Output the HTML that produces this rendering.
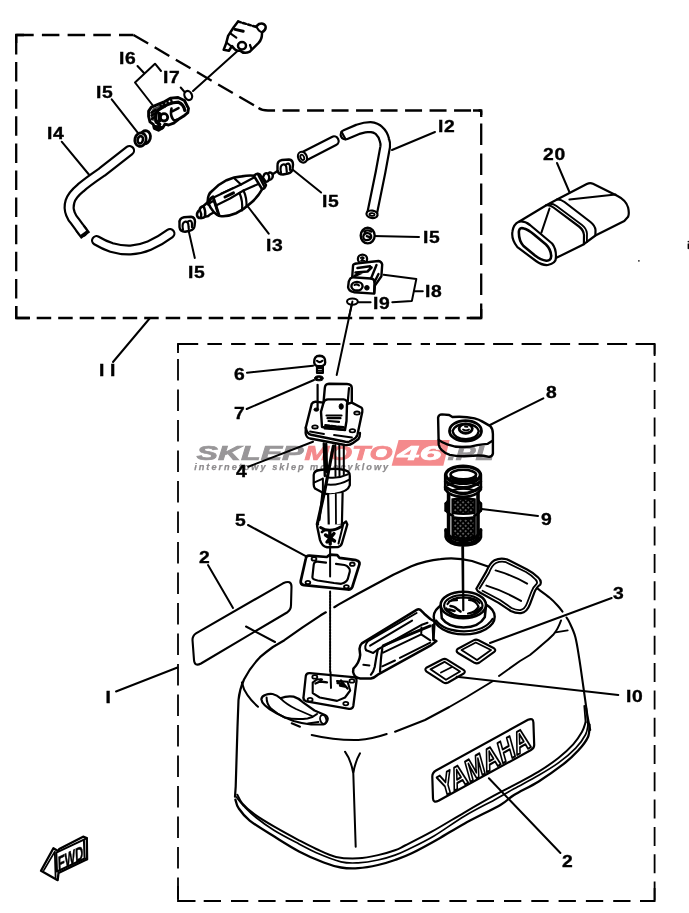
<!DOCTYPE html>
<html><head><meta charset="utf-8">
<style>
html,body{margin:0;padding:0;background:#fff;}
svg{display:block;will-change:transform;}
.l{fill:none;stroke:#000;stroke-width:2;stroke-linecap:round;stroke-linejoin:round;}
.t{fill:none;stroke:#000;stroke-width:1.1;stroke-linecap:round;stroke-linejoin:round;}
.k{fill:none;stroke:#000;stroke-width:2.4;stroke-linecap:round;stroke-linejoin:round;}
.w{fill:#fff;stroke:#000;stroke-width:2;stroke-linecap:round;stroke-linejoin:round;}
.b{fill:#000;stroke:#000;stroke-width:1;stroke-linejoin:round;}
.d{fill:none;stroke:#000;stroke-width:1.9;stroke-dasharray:18 7.5;}
.ho{fill:none;stroke:#000;stroke-linecap:butt;stroke-linejoin:round;}
.hi{fill:none;stroke:#fff;stroke-linecap:butt;stroke-linejoin:round;}
.n{font-family:"Liberation Sans",sans-serif;font-weight:bold;font-size:16.5px;fill:#000;stroke:#000;stroke-width:0.35;letter-spacing:0.6px;}
</style></head>
<body>
<svg width="689" height="913" viewBox="0 0 689 913">
<rect width="689" height="913" fill="#fff"/>
<g id="boxes" fill="none" stroke="#000" stroke-width="2.3">
<path stroke-dasharray="17.5 8.2" d="M16.2,35 H133.5"/>
<path stroke-dasharray="17 7.5" d="M133.5,35 L258.5,108"/>
<path stroke-dasharray="17 7.5" d="M258.5,108 Q262,110.5 268,110.5 H481.2"/>
<path stroke-dasharray="21.7 8.3" stroke-dashoffset="17.1" d="M481.2,110.5 V318"/>
<path stroke-dasharray="14.5 7" d="M481.2,318 H16.2"/>
<path stroke-dasharray="19.5 7.6" d="M16.2,35 V318"/>
<g stroke-width="1.8"><path stroke-dasharray="14.5 9.2" stroke-dashoffset="18" d="M178,344 H430"/>
<path stroke-dasharray="20 8.5" stroke-dashoffset="1" d="M654.6,344 H430"/>
<path stroke-dasharray="19 8.3" stroke-dashoffset="8.5" d="M654.6,344 V901"/>
<path stroke-dasharray="17.3 10" stroke-dashoffset="1.6" d="M178,901 H654.6"/>
<path stroke-dasharray="21.5 9" stroke-dashoffset="15.5" d="M178,344 V901"/></g>
<path d="M16.2,43 V35 H24 M473,110.5 H481.2 V117 M481.2,309 V318 H470 M16.2,306 V318 H30"/>
<path stroke-width="1.8" d="M178,353 V344 H198 M640,344 H654.6 V356 M654.6,888 V901 H640 M178,886 V901 H195.5"/>
</g>
<!-- LEADERS -->
<g id="leaders" class="l">
<path d="M237.5,51 L193,91"/>
<path d="M180.7,87.5 L185,92.5"/>
<path d="M137.5,66 L144,73 M135,82.5 L155,63.7 L161,71 M135,82.5 L152.5,105"/>
<path d="M111.7,99.3 L138.3,133.3"/>
<path d="M61.7,141.7 L89.3,175"/>
<path d="M247.5,206 L268.7,233.7"/>
<path d="M292.5,169.5 L321.1,192.5"/>
<path d="M188.7,231 L194.8,258"/>
<path d="M435,132 L392,150"/>
<path d="M373,236 L419,237"/>
<path d="M383.6,274.8 L416.3,279.1 L411.9,300.9 L392.3,302.3 M414.5,291.2 H422.8"/>
<path d="M358.2,302.3 L370.6,302.3"/>
<path d="M352.4,301.6 L336.7,375"/>
<path d="M557,163 L569.4,192"/>
<path d="M150,318 L113,362"/>
<path d="M247,372.7 L313,365.7"/>
<path d="M246.7,409 L314,380"/>
<path d="M248.3,466.7 L313,441.7"/>
<path d="M248,525 L306.7,556.7"/>
<path d="M208,565 L233,608"/>
<path d="M543.3,398.3 L490,425"/>
<path d="M538,516 L481.7,509"/>
<path d="M611.7,598 L490,643"/>
<path d="M116,691.5 L177.5,667.5"/>
</g>
<!-- HOSES -->
<g id="hoses">
<path class="ho" stroke-width="11.2" style="stroke-linecap:round" d="M129.5,150.5 L102,172 Q86,183 80.5,188 Q72,195 70,201.5 Q68,208 70.5,214 Q72,218 74.8,221 L82.5,231.5"/>
<path class="hi" stroke-width="6.8" style="stroke-linecap:round" d="M129.5,150.5 L102,172 Q86,183 80.5,188 Q72,195 70,201.5 Q68,208 70.5,214 Q72,218 74.8,221 L82.5,231.5"/>
<path class="ho" stroke-width="11.2" d="M80,228 L85.6,235.6"/>
<path class="hi" stroke-width="6.8" d="M79.5,227.5 L83.4,232.7"/>
<path class="ho" stroke-width="11" style="stroke-linecap:round" d="M96.5,240.5 Q104,245 111.6,247.5 Q121,250.3 130.5,250 Q140,249.5 149.3,245.6 Q160,241 170,233.5"/>
<path class="hi" stroke-width="6.6" style="stroke-linecap:round" d="M96.5,240.5 Q104,245 111.6,247.5 Q121,250.3 130.5,250 Q140,249.5 149.3,245.6 Q160,241 170,233.5"/>
</g>
<!-- CONNECTOR TOP -->
<g id="conn">
<path class="w" style="stroke-width:2.5" d="M238.1,21.5 L233.7,27.2 L228.1,35.9 L226.3,42.9 L223.7,49.8 L228.9,50.7 L232,46 Q236,52 240,50.5 Q244,54.5 249.8,51.6 L258.6,42.9 Q262.3,39 262,32.4 Q266.5,30 265.5,26 Q263.5,22.5 259,24 L255.9,26.8"/>
<path class="l" style="stroke-width:2.5" stroke-dasharray="3 2.2" d="M238.1,21.5 L255.9,26.8"/>
<ellipse class="w" style="stroke-width:2.5" cx="242" cy="45.8" rx="4" ry="3.7"/>
<path class="k" style="stroke-width:3" d="M235,29.4 L243.2,31.2"/>
<path class="l" style="stroke-width:2.2" d="M230.7,33.7 L236.3,37.6 M226.5,42.5 L231.5,46.5 M250,45 L251.5,49"/>
<path class="l" d="M256.5,27 Q259,31.5 262,32.4"/>
</g>
<!-- O-RING 17 -->
<ellipse class="w" cx="188.2" cy="95.5" rx="3.7" ry="4.7" style="stroke-width:2.2" transform="rotate(-25 188.2 95.5)"/>
<!-- PART 16 -->
<g id="p16">
<path class="w" style="stroke-width:2.9" d="M148.6,111.2 L151.4,107.2 L163.5,102.2 L170.8,98.1 L178.1,97.5 L184.4,100.5 L188.5,108.3 L187.8,112.7 L183.7,116.1 L178.1,119.6 L173.7,123.2 L168.6,125 L165,124.1 L162.8,127.7 L158.5,130.2 L154.3,128.4 L153.3,124.3 L150,121.9 L148.6,116.3 Z"/>
<path class="k" style="stroke-width:3.2" d="M156.3,122 Q154.3,113.5 158.3,110 Q168,102.5 178.5,102.2 Q184,104.5 184.8,110.5"/>
<path class="k" style="stroke-width:2.4" d="M151.5,112.5 L155.5,110 M151.5,115.5 L155,113.5 M152,118.8 L155,117 M160,104.5 L162,107.8 M163.5,103 L165.5,106 M167,101 L168.5,104.3 M171,99.5 L172,102.8"/>
<path d="M150.5,112.5 L153,108.3 L163.5,104 L166,107.5 L158,111.5 L155.5,116 L155.3,121 L151.5,120.5 Z" fill="#000" opacity="0.75"/>
<circle class="k" style="stroke-width:2.8" cx="164" cy="117.3" r="3.7"/>
<path class="k" style="stroke-width:3.6" d="M159.3,113.5 L159.8,120.5"/>
<path class="k" style="stroke-width:2.6" d="M171.3,111.8 L178.5,108.2 M171.5,108.5 Q170,114 172.5,118.5 Q174,121.5 177,119.5"/>
<path class="k" style="stroke-width:3.8" d="M155.5,126.8 L161.5,127.8 M156.3,121.5 L159.5,124.4"/>
</g>
<!-- CLIPS 15 -->
<g id="clips">
<!-- top-left ring -->
<ellipse class="w" style="stroke-width:2.8" cx="145" cy="137.3" rx="5.4" ry="6.6" transform="rotate(15 145 137.3)"/>
<ellipse class="w" style="stroke-width:2.8" cx="140.5" cy="139.6" rx="5.6" ry="6.8" transform="rotate(15 140.5 139.6)"/>
<ellipse class="k" style="stroke-width:2.6" cx="140.3" cy="139.8" rx="2.6" ry="3.7" transform="rotate(15 140.3 139.8)"/>
<!-- right of bulb -->
<g transform="translate(285,167)">
<path class="w" style="stroke-width:2.4" d="M-7.5,-1 Q-8,-6 -3,-7 L4,-7.5 Q8,-7 8,-2.5 L7.5,2 Q7,5.5 3,6.5 L-2,7.5 Q-7,7.5 -7.5,3 Z"/>
<path class="k" style="stroke-width:2.2" d="M-4,5.5 Q-5.5,-1.5 -2,-2.5 Q1.5,-3 1.5,2 L1.8,5 M1,-2.5 Q4,-5 5,-1 L5,3"/>
</g>
<!-- left of bulb -->
<g transform="translate(187,224.2)">
<path class="w" style="stroke-width:2.4" d="M-7.5,-1 Q-8,-6 -3,-7 L4,-7.5 Q8,-7 8,-2.5 L7.5,2 Q7,5.5 3,6.5 L-2,7.5 Q-7,7.5 -7.5,3 Z"/>
<path class="k" style="stroke-width:2.2" d="M-4,5.5 Q-5.5,-1.5 -2,-2.5 Q1.5,-3 1.5,2 L1.8,5 M1,-2.5 Q4,-5 5,-1 L5,3"/>
</g>
<!-- below hose 12 -->
<g transform="translate(367.7,235.6)">
<ellipse class="w" style="stroke-width:2.4" cx="0" cy="0" rx="7" ry="7.8"/>
<path class="k" style="stroke-width:2.2" d="M-3.5,-4 Q0,-6.5 3.5,-4 M-4.5,1 Q-4,-3 0,-2.5 Q4,-2 3.5,2 Q2,5 -2,4.5 Q-4.5,4 -4.5,1 M-1,0.5 L2,1.5"/>
</g>
</g>
<!-- BULB 13 -->
<g id="bulb">
<!-- left barb -->
<path class="w" style="stroke-width:2.5" d="M208,202 L203.5,206 Q200,207 199.5,210 Q196.5,212.5 197,215.5 Q198,218.5 201,218 Q203.5,218.5 205,216.5 Q208,217 210,214.5 L214.5,212 "/>
<path class="k" style="stroke-width:2.4" d="M203.5,206 Q206,211 205,216.5 M199.8,210 Q202,214 201,218"/>
<!-- body -->
<path class="w" style="stroke-width:2.6" d="M207.7,201.9 Q207.5,194 212.5,190.6 Q219,184 226.6,180.2 Q234,176.8 241.7,176.4 Q249,175 254.9,175.8 L262.5,188.7 Q258,197 251.1,202.8 Q244,209.5 236,213.2 Q227,217 220,216 Q213,214 207.7,201.9 Z"/>
<path class="k" style="stroke-width:3" d="M208.5,204.5 Q209,199 213,196.8 L219,215.5"/>
<path class="k" style="stroke-width:2.4" d="M210,203 Q212.5,200.5 214.5,201.5 L217.5,211"/>
<path class="l" style="stroke-width:2.2" d="M211.5,198.5 L241,184.5 L254,177.5 M216,205.5 L230,198.5 L243.5,190.5 L259.5,183.5"/>
<path class="l" style="stroke-width:2.2" d="M234.5,178.5 L241,184.5 M243.5,190.5 Q247,198 246.5,207 M239.5,193 Q243,201 242,210.5"/>
<path class="k" style="stroke-width:3" d="M225,197 L233.5,192.8"/>
<path class="l" style="stroke-width:1.8" d="M221,193.5 L233,188"/>
<!-- right collar -->
<path class="w" style="stroke-width:2.5" d="M254,176 Q256.5,172.5 260,174.5 L266,185 Q265,189 262,189 Z"/>
<path class="k" style="stroke-width:2.4" d="M257.8,174 L264.3,186.5"/>
<!-- right barb -->
<path class="w" style="stroke-width:2.4" d="M262.8,177.5 L264.5,174 Q266.5,172.5 268,174 Q269.5,171.5 271.5,173 Q273.5,174.5 272.5,177.5 Q271,180.5 268.8,180 Q267.5,182.5 265.5,181.5 Z"/>
<path class="k" style="stroke-width:2.2" d="M268,174 Q270,177 268.8,180"/>
<path class="l" style="stroke-width:2.2" d="M273,174 L277.5,171"/>
</g>
<!-- SHORT TUBE -->
<g id="stube">
<path class="ho" stroke-width="11.4" style="stroke-linecap:round" d="M303.5,156.6 L334,141"/>
<path class="hi" stroke-width="7" style="stroke-linecap:round" d="M303.5,156.6 L334,141"/>
<ellipse class="w" style="stroke-width:2.2" cx="302.5" cy="157.2" rx="4.3" ry="5.6" transform="rotate(-25 302.5 157.2)"/>
<ellipse class="k" style="stroke-width:1.8" cx="302.3" cy="157.4" rx="1.7" ry="2.8" transform="rotate(-25 302.3 157.4)"/>
</g>
<!-- HOSE 12 -->
<g id="hose12">
<path class="ho" stroke-width="11.8" style="stroke-linecap:round" d="M345.5,134.6 L358,129.3 Q365,127 370.2,127 Q376,127.5 379.2,130.7 Q383,134 384.4,140 Q385.6,143 385.2,146.7 L380.5,172.3 L372.3,212.5"/>
<path class="hi" stroke-width="7.4" style="stroke-linecap:round" d="M345.5,134.6 L358,129.3 Q365,127 370.2,127 Q376,127.5 379.2,130.7 Q383,134 384.4,140 Q385.6,143 385.2,146.7 L380.5,172.3 L372.3,212.5"/>
<path class="l" style="stroke-width:2.2" d="M341.5,131.8 L345.5,139.2"/>
<ellipse class="w" style="stroke-width:2.2" cx="372" cy="214.3" rx="5.6" ry="3.7" transform="rotate(10 372 214.3)"/>
<ellipse class="k" style="stroke-width:1.8" cx="372" cy="214.5" rx="2.6" ry="1.3" transform="rotate(10 372 214.5)"/>
</g>
<!-- CONNECTOR 18 -->
<g id="c18">
<ellipse class="w" style="stroke-width:2.3" cx="362.5" cy="259" rx="4.6" ry="4.4"/>
<path class="k" style="stroke-width:1.8" d="M360.8,258 Q362.5,256.5 363.8,258 L361,260.8 L364.5,260.8"/>
<path class="w" style="stroke-width:2.4" d="M353.1,265 Q354,263.5 358,263.2 L378.5,261 Q381.5,261.5 382.2,264.5 L381.4,276.2 L374.9,285.6 L374.2,293.6 L353.9,292.2 Q348.5,291 348.1,287.1 L348.8,281.3 Q350,278 352.2,277.2 Z"/>
<path class="k" style="stroke-width:2.4" d="M352.2,277.2 L371,278.5 Q374.5,279 374.5,282 L374.2,293"/>
<path class="k" style="stroke-width:2.4" d="M371,278.5 L376.5,265 M374.5,282 L378.5,274"/>
<path class="k" style="stroke-width:2.6" d="M357.5,268 L370,266.3 M355.5,272.5 L367.5,271.5 L371.5,267.5 M354.5,276 L362,272.5"/>
<ellipse class="k" style="stroke-width:2.4" cx="357" cy="286.2" rx="5.6" ry="4.3"/>
<path class="k" style="stroke-width:2" d="M354.5,285 Q357,283.5 359,285.5"/>
<circle class="b" cx="366.9" cy="287.8" r="2.3"/>
</g>
<!-- O-RING 19 -->
<ellipse class="w" cx="352.4" cy="301.6" rx="5.4" ry="3.1"/>
<path class="l" d="M352.4,301.6 L348.8,317.6"/>
<!-- PART 20 -->
<g id="p20">
<!-- body -->
<path class="w" style="stroke-width:2.2" d="M518.9,221.7 L546.3,205.2 L557,199.5 L586.8,184.1 Q590,182.5 593,183.8 L617.1,195.7 Q626,200 628.1,207.5 Q629.5,213.5 628.1,216.8 L624.3,221.1 L595.4,235.5 L583.9,244.2 L555.9,258.1 Q556,263 547.8,265 Q542,265.5 536,261 L517.4,247.1 Q511,239 512.5,231.2 Q513.5,224 518.9,221.7 Z"/>
<!-- front oval outer right portion -->
<path class="l" style="stroke-width:2.2" d="M518.9,221.7 Q524,220.5 530,225 L552.1,243.5 Q556.5,249 555.9,258.1"/>
<!-- inner oval -->
<path class="k" style="stroke-width:2.6" d="M518.9,231.2 Q519.5,227 524,228.5 Q528,229.5 534,234.5 L546,244.5 Q551,249.5 551.2,256 Q551,261 546.3,260.7 Q541,260 535,255.5 L523.5,246 Q518.5,240.5 518.9,231.2 Z"/>
<!-- band -->
<path class="l" style="stroke-width:2.2" d="M546.3,205.2 Q550,204.8 553.5,207.5 L579,226.5 Q583.5,230 584,235 L583.9,244.2"/>
<path class="l" style="stroke-width:1.8" d="M549.2,203.8 Q553,203.5 556.5,206 L582,225 Q586.5,228.5 587,233.5 L586.9,242"/>
<path class="l" style="stroke-width:2.2" d="M557,199.5 Q561,199.3 564.5,202 L590.5,222 Q595,225.5 595.5,230 L595.4,235.5"/>
<!-- fold lines -->
<path class="l" style="stroke-width:2" d="M569.4,199.4 L615.6,194.5"/>
<path class="l" style="stroke-width:2" d="M549.5,208.5 L541.4,232.6"/>
</g>
<!-- BOLT 6 / WASHER 7 -->
<g id="b6">
<path class="w" style="stroke-width:2.2" d="M317,365 L317,373 L322.9,373 L322.9,365"/>
<path class="k" style="stroke-width:2" d="M317.3,368 H322.6 M317.3,370.8 H322.6"/>
<path class="w" style="stroke-width:2.4" d="M314.2,362.5 Q313.8,356 319.6,355.8 Q325.6,356 325.2,362.5 Q325,366.2 319.6,366.2 Q314.4,366.2 314.2,362.5 Z"/>
<path class="k" style="stroke-width:2.2" d="M317,360.8 Q319.6,363.3 322.4,360.8"/>
<ellipse class="b" cx="318.9" cy="378.3" rx="4.4" ry="2.5"/>
<ellipse cx="318.9" cy="378.3" rx="1.3" ry="0.5" fill="#fff"/>
</g>
<!-- PART 4 -->
<g id="p4">
<!-- plate thickness -->
<path class="w" style="stroke-width:2.3" d="M305.8,427.5 L305.6,433 Q306,437.5 310,438.5 L345,445 Q350,445.5 353,443 L358.5,439 Q360,437 360,433"/>
<!-- plate -->
<path class="w" style="stroke-width:2.4" d="M311.7,403.9 Q313,401.5 316,401.8 L323.5,402.6 L351.8,402.6 L361.6,407.8 Q363,409.5 362.3,411.8 L357.5,434.5 Q356.5,438 353,439.5 L349.5,441.5 Q348,442.2 345.5,441.8 L311,434.8 Q306.5,433.5 305.8,427.5 Z"/>
<path class="l" style="stroke-width:1.8" d="M310,431.5 L324,434 M334,435 L352,437.5"/>
<!-- holes -->
<ellipse class="w" style="stroke-width:1.8" cx="315" cy="426.9" rx="2.8" ry="1.6"/>
<ellipse class="w" style="stroke-width:1.8" cx="357" cy="413.1" rx="2.8" ry="1.6"/>
<ellipse class="w" style="stroke-width:1.8" cx="352.4" cy="430.8" rx="2.8" ry="1.6"/>
<ellipse class="b" cx="316.3" cy="409.6" rx="2.4" ry="1.6"/>
<path class="l" style="stroke-width:2.2" d="M317.6,384.8 L317.6,409.1"/>
<!-- upper box -->
<path class="w" style="stroke-width:2.4" d="M324.8,388.1 Q325,384 329,383.8 L347,384 Q351.8,384.2 351.8,388.1 L351.8,402.6 L347,404 L346.5,421 L345,430 L322,427 L321,411.8 L323.5,402.6 Z"/>
<path class="l" style="stroke-width:2.2" d="M323.5,402.6 Q324.5,399.3 328,399.3 L343.5,399.3 Q347,399.5 347.6,403.5"/>
<path class="l" style="stroke-width:2.2" d="M347.6,403.5 L349,388"/>
<ellipse class="b" cx="341.2" cy="406.5" rx="2.1" ry="2.8"/>
<!-- label plate -->
<path class="l" style="stroke-width:2.2" d="M326.5,415.5 H341.5 M327.5,418.2 H340.5 M328.5,421 L339,421.8"/>
<path class="k" style="stroke-width:2.8" d="M325.5,425.5 L329.5,426 M331.5,426.2 L336,426.6 M338,426.9 L343.5,427.3"/>
<path class="l" style="stroke-width:1.8" d="M324.5,428.5 L344,430"/>
<!-- float -->
<path class="w" style="stroke-width:2.3" d="M313.7,475 Q314,470.5 320,470 L330,469 Q342,468 348,471.5 Q349.8,473 349.8,476 L349.8,485.2 Q348,491.5 335,494 Q327,495 322.9,492.8 L315,488.5 Q313.7,487 313.7,484.5 Z"/>
<!-- tubes -->
<path class="l" style="stroke-width:2.4" d="M323.8,443.5 L324.8,476 M326.2,443.8 L327,472"/>
<path class="l" style="stroke-width:2" d="M335.3,445 L335.5,476 M339.3,445.5 L339.5,476.5 M343.8,445.5 L343.8,474.5"/>
<path class="k" style="stroke-width:3.2" d="M333.4,446 L324.5,492 L317.3,524"/>
<path class="l" style="stroke-width:2.2" d="M322.4,493.1 L319.5,520"/>
<path class="l" style="stroke-width:2" d="M328.1,477.5 Q338,479 347.8,474.4 M327.5,484.5 Q339,485.5 349.8,479.3"/>
<path class="l" style="stroke-width:2" d="M322.9,491.8 L322.9,478.6 M313.9,482.6 L322.9,478.6"/>
<!-- lower tube -->
<path class="w" style="stroke-width:2.2" d="M328.1,494.4 L328.8,527.2 L341.9,524.6 L342.6,493.1"/>
<path class="l" style="stroke-width:1.8" d="M335.8,494 L336,524"/>
<!-- bottom bracket -->
<path class="w" style="stroke-width:2.4" d="M318,524.5 Q316.5,523 317.5,528 L320,540 Q322,546.5 327,547.3 L338,547 Q341,546.5 342,543 L347.3,524.5 L346,521.5 L341.9,524.6"/>
<path class="l" style="stroke-width:2" d="M343.5,523.5 L338.5,543.5"/>
<path class="k" style="stroke-width:2.8" d="M320.5,527.5 Q330,533.5 341.5,526.5 M322,532 Q324,529.5 327,530"/>
<path class="k" style="stroke-width:3.4" d="M325.5,535 L334.5,541 M334,533.5 L327,542 M329.8,531.5 L330.2,544"/>
</g>
<!-- GASKET 5 -->
<g id="g5">
<path class="w" style="stroke-width:2.7" d="M305.9,558.3 Q306.3,555.5 309.5,555.7 L326.8,557 L330,554.6 L337.2,555.2 L339.5,557.8 L356.2,560.2 Q360,561 359.5,564.2 L352.3,587 Q351,590 347.5,589.5 L304,585.2 Q300.3,584.5 300.7,581.1 Z"/>
<path class="l" style="stroke-width:2.2" d="M326,562.6 L317.5,561.7 Q314,561.3 313.7,564.8 L312.4,577.2 Q312.5,579.5 317.7,580.5 L334,583 L341.2,583.8 Q346.5,582.5 347.7,579.2 L349.8,571.5 Q350.5,569.5 348.5,567.5 Q347,565.5 344.5,565 L336,563.8"/>
<ellipse class="w" style="stroke-width:1.8" cx="314" cy="558.9" rx="2.4" ry="1.7"/>
<ellipse class="w" style="stroke-width:1.8" cx="352.3" cy="564.2" rx="2.4" ry="1.7"/>
<ellipse class="w" style="stroke-width:1.8" cx="307.9" cy="582.5" rx="2.4" ry="1.7"/>
<ellipse class="w" style="stroke-width:1.8" cx="346.4" cy="586.8" rx="2.4" ry="1.7"/>
<path class="l" style="stroke-width:2" d="M330.1,546.5 L330.1,576.6"/>
<path class="l" style="stroke-width:2" stroke-dasharray="2.2 0.9" d="M330.1,591.6 L330.1,672"/>
</g>
<!-- CAP 8 -->
<g id="cap8">
<path class="w" style="stroke-width:2.4" d="M438.1,417.6 Q438.5,414.5 442,414.4 L449.2,415 L452.4,417 Q464,416 474.6,418.3 Q479,419.5 482.5,421.6 L490.3,426.1 Q493,429 492.9,434 L492.9,453.6 Q492,457 489,456.8 Q483,455.3 477.2,455.5 L464.2,456.2 Q456,456.3 449.8,454.9 Q445,453.5 442,450.3 Q439,447.5 438.7,444.4 Z"/>
<path class="l" style="stroke-width:2.3" d="M438.7,439.8 Q442,442.5 447.2,444.4 Q454,447 461.6,447 Q470,447.2 477.2,445.1 Q483,444 487.7,443.8 L492.9,440.5"/>
<ellipse class="l" style="stroke-width:2.8" cx="465.5" cy="430.9" rx="16" ry="10.2" fill="none"/>
<path class="l" style="stroke-width:2.4" d="M452.5,431 Q454,438.8 466,439.2 Q477.5,438.8 478.8,431 Q477,424.3 465.5,424 Q455,424.3 452.5,431"/>
<ellipse class="l" style="stroke-width:2.8" cx="465.7" cy="428.6" rx="6.6" ry="4.7" fill="none"/>
<path class="l" style="stroke-width:1.8" d="M463,429.5 Q466,431.5 469,429.5 M465,426.5 L467.5,426.8"/>
</g>
<!-- FILTER 9 -->
<g id="f9">
<defs>
<pattern id="mesh" width="3.7" height="3.7" patternUnits="userSpaceOnUse" patternTransform="rotate(45)">
<rect width="3.7" height="3.7" fill="#000"/><circle cx="1.85" cy="1.85" r="0.62" fill="#fff"/>
</pattern>
</defs>
<!-- body -->
<path class="w" style="stroke-width:3.6" d="M448.6,490 L448.6,536 Q449,541 456,543 Q463.5,544.5 471,543 Q477.5,541 478,536 L478,490"/>
<!-- mesh sections -->
<path d="M452.6,499.4 Q463.5,497.5 474.6,499.4 L474.6,512.8 Q463.5,515 452.6,512.8 Z" fill="url(#mesh)" stroke="#000" stroke-width="2.4"/>
<path d="M452.6,517.3 Q463.5,519.3 474.6,517.3 L474.6,536 Q463.5,542 452.6,536 Z" fill="url(#mesh)" stroke="#000" stroke-width="2.4"/>
<!-- mid ring -->
<path class="k" style="stroke-width:3" d="M445.8,503.5 L445.8,510.5 M480.8,503.5 L480.8,510.5"/>
<path class="k" style="stroke-width:2.6" d="M446,510.5 Q449,514.5 453,515.5 M480.6,510.5 Q478,514.5 474.4,515.5 M446,503.5 L448.3,500.5 M480.6,503.5 L478.3,500.5"/>
<!-- bottom ring -->
<path class="k" style="stroke-width:3" d="M445.8,529.5 L445.8,537 Q447,542 455,544.3 Q463.5,546 472,544.3 Q479.5,542 480.8,537 L480.8,529.5"/>
<path class="k" style="stroke-width:3" d="M445.8,530.5 Q448,536.5 456,539.8 Q463.5,541.8 471,539.8 Q478.5,536.5 480.8,530.5"/>
<!-- top rings -->
<path class="w" style="stroke-width:2.8" d="M445.3,474.8 L445.3,489.5 Q450,496.5 463.3,497 Q476,496.5 480.8,489.5 L480.8,474.8"/>
<path class="k" style="stroke-width:3.4" d="M445.5,487 Q463.3,500 480.6,487"/>
<path class="k" style="stroke-width:3.2" d="M445.5,481.5 Q463.3,494 480.6,481.5"/>
<path class="k" style="stroke-width:2.8" d="M448,484.8 Q463.3,478.5 478,484.8"/>
<ellipse class="w" style="stroke-width:3.4" cx="463.1" cy="474.8" rx="17.3" ry="8.6"/>
<ellipse class="l" style="stroke-width:2.6" cx="463.3" cy="474.6" rx="12.8" ry="4.8"/>
<path class="k" style="stroke-width:2.8" d="M450.5,477.5 Q463.3,485 476,477.5"/>
<path class="k" style="stroke-width:2.4" d="M451,490.8 Q463.3,486.5 475.5,490.8"/>
</g>
<path class="l" style="stroke-width:2" d="M462.3,547 L463,610"/>
<!-- TANK -->
<g id="tank">
<!-- silhouette -->
<path class="l" style="stroke-width:2.2" d="M235,796.7 L235.7,786.7 L237.5,726.7 L238.5,700 Q239.5,689.5 244,679.5 Q250,667.5 260,657.2 Q266,652 272.9,647 L284.4,640.2 L302.6,627.3 L320.7,615.3 L325.8,612.3 M334.3,607.2 L338.9,604.4 L357,594.3 L375.1,584.5 L393.3,574.7 L411.4,566.3 Q418,563.5 425.9,561.6 Q433,559.8 440.4,559.1 Q456,557 472,561 L488,566.5"/>
<path class="l" style="stroke-width:2.1" d="M537.9,588.9 C539.9,590.4 546.4,594.9 549.7,597.8 C553.1,600.6 555.9,603.7 558.0,606.0 C560.1,608.3 561.8,610.7 562.5,611.6"/>
<path class="l" style="stroke-width:2.1" d="M566.5,617.5 C567.0,618.3 567.9,619.1 569.4,622.4 C570.9,625.7 573.8,631.1 575.4,637.2 C577.0,643.3 578.0,650.7 579.3,658.9 C580.6,667.1 582.0,677.3 583.3,686.5 C584.6,695.7 586.1,706.9 587.2,714.1 C588.4,721.3 589.7,727.3 590.2,729.9"/>
<path class="l" style="stroke-width:1.8" d="M585.6,722.2 L584.3,706 M588,724.7 L586.3,708"/>
<!-- inner right edge -->
<!-- bottom seams -->
<path class="l" style="stroke-width:2.3" d="M235.4,799.6 C235.9,801.0 236.2,804.7 238.6,808.2 C241.0,811.7 243.8,815.9 249.7,820.6 C255.6,825.3 266.1,831.5 274.3,836.6 C282.5,841.7 290.8,847.1 299.0,851.4 C307.2,855.7 316.7,859.8 323.7,862.5 C330.7,865.2 335.2,866.5 341.0,867.5 C346.8,868.5 352.0,868.6 358.2,868.2 C364.4,867.8 371.9,866.4 378.0,865.0 C384.1,863.6 389.4,862.0 395.0,860.0 C400.6,858.0 404.5,856.8 411.7,853.3 C418.9,849.8 429.5,844.0 438.3,839.0 C447.1,834.0 454.4,829.1 464.7,823.4 C475.0,817.7 492.2,809.6 500.4,804.9 C508.6,800.2 507.6,798.9 514.0,795.0 C520.4,791.1 530.5,786.5 538.7,781.4 C546.9,776.3 556.8,769.3 563.4,764.2 C570.0,759.1 574.1,755.1 578.2,750.6 C582.3,746.1 586.1,741.3 588.0,737.0 C589.9,732.7 589.2,726.8 589.5,724.7"/>
<path class="l" style="stroke-width:1.7" d="M236.3,797.0 C237.7,798.7 241.4,803.6 244.7,807.0 C248.0,810.4 251.1,813.6 256.0,817.5 C260.9,821.4 267.1,826.1 274.3,830.5 C281.5,834.9 292.0,840.3 299.0,844.0 C306.0,847.7 309.3,849.7 316.3,852.7 C323.3,855.7 334.0,860.1 341.0,861.8 C348.0,863.5 352.0,863.1 358.2,862.8 C364.4,862.5 371.9,861.3 378.0,860.0 C384.1,858.7 390.0,856.9 395.0,855.1 C400.0,853.4 401.5,852.7 408.0,849.5 C414.5,846.3 424.6,841.6 434.0,836.0 C443.4,830.4 454.6,822.0 464.7,816.0 C474.8,810.0 486.1,804.4 494.3,799.9 C502.5,795.4 506.6,792.9 514.0,788.8 C521.4,784.7 531.3,779.6 538.7,775.3 C546.1,771.0 552.2,767.4 558.4,762.9 C564.6,758.4 571.2,752.8 575.7,748.1 C580.2,743.4 583.6,738.4 585.6,734.5 C587.6,730.6 587.6,726.3 588.0,724.7"/>
<path class="l" style="stroke-width:2" d="M237.3,794.7 C238.1,796.1 239.4,800.0 242.3,803.3 C245.2,806.6 249.3,810.5 254.6,814.4 C259.9,818.3 266.9,822.4 274.3,826.7 C281.7,831.0 292.0,836.6 299.0,840.3 C306.0,844.0 310.1,846.2 316.3,849.0 C322.5,851.8 329.0,855.4 336.0,856.9 C343.0,858.4 351.2,858.6 358.2,858.3 C365.2,858.0 371.9,856.5 378.0,855.1 C384.1,853.8 390.5,851.8 395.0,850.2 C399.5,848.6 398.9,848.6 405.0,845.5 C411.1,842.4 421.8,837.2 431.7,831.7 C441.6,826.2 454.5,818.2 464.7,812.3 C474.9,806.4 484.8,800.7 493.0,796.2 C501.2,791.7 506.4,789.2 514.0,785.1 C521.6,781.0 531.3,776.1 538.7,771.6 C546.1,767.1 552.6,762.5 558.4,758.0 C564.1,753.5 569.3,748.7 573.2,744.4 C577.1,740.1 579.8,735.8 581.9,732.1 C584.0,728.4 585.0,723.9 585.6,722.2"/>
<!-- front ridge -->
<path class="l" style="stroke-width:2" d="M241.9,682.5 Q243.5,690 247.5,695.1 Q251.5,701 258,706.8"/>
<path class="l" style="stroke-width:2" d="M291.7,723.3 L300,726.7 M311.7,735 Q335,740.5 358.3,740 Q372,739 386.7,734"/>
<path class="l" style="stroke-width:2" d="M395,731.7 L425,720 L449.3,707 L466.7,697 L493,681"/>
<path class="l" style="stroke-width:2" d="M499,676 L520,661 L530,655 Q537,649.5 541.8,645.1 Q549,639 553.7,634.2 Q558,629 561,620.5"/>
<path class="l" style="stroke-width:1.8" d="M555.5,632.4 L567.7,630.3"/>
<!-- crease -->
<path class="l" style="stroke-width:2" d="M345,751.7 Q351,760 353.3,773.3 M360,753.3 Q355,762 353.3,773.3 L355.7,846.7"/>
</g>
<!-- NECK -->
<g id="neck">
<ellipse class="w" style="stroke-width:2.4" cx="464.2" cy="616.8" rx="30.5" ry="17.6"/>
<path class="l" style="stroke-width:2.2" d="M436,620.5 Q444,631 464,631.3 Q485,631 492.5,619"/>
<path class="w" style="stroke-width:2.5" d="M440.7,606 L441.8,618.3 Q448,627.3 463.5,627.6 Q479,627.3 484.8,617.2 L486,605.5"/>
<ellipse class="w" style="stroke-width:2.6" cx="463.3" cy="605" rx="22.7" ry="13.2"/>
<ellipse class="l" style="stroke-width:2.2" cx="463.3" cy="605.6" rx="19.2" ry="10.6" fill="none"/>
<path class="l" style="stroke-width:2.2" d="M447.5,604 Q451,597.5 463.5,597.3 Q476,597.5 479.5,603 M446.5,608.5 Q452,616.5 463.5,616.8 Q475,616.5 480.5,608 M449,601.5 Q453,600 457,600.2 M469,600 Q476,600.5 478.5,606.5 Q476,612.5 468,613.5"/>
<path class="k" style="stroke-width:2.6" d="M449,609.5 L454.5,611 M457,609 L460.5,611.5 M450.5,606 Q455,606.5 457,609"/>
<path class="l" style="stroke-width:2.2" d="M463,547 L463.3,610.2"/>
</g>
<!-- VENT FLAP -->
<g id="flap">
<path class="w" style="stroke-width:2.2" d="M476.3,588.7 L486.4,571.4 Q490,562.5 494.5,560.2 Q500,557.5 506.7,559.2 L527.1,569.4 Q534,573 538.2,577.5 Q542,581 540.3,584.6 Q536.5,587 534.2,592.8 L530.1,603.9 Q527,612.5 521,613.1 Q516,613.5 510.8,611 L498.6,602.9 L480.3,592.8 Q477,591 476.3,588.7 Z"/>
<path class="l" style="stroke-width:1.8" d="M479.5,588.5 L489,573 Q492,565 496,563 Q501,560.8 506,562.2 L526,572 Q532,575.5 535.5,579.5 Q538,582 536.5,584 Q533.5,586.5 531.3,592 L527.3,602.5 Q524.8,609.5 520.5,610 Q516,610.3 511.5,608 L500,600 L482.5,590.8"/>
<path class="l" style="stroke-width:2" d="M495.6,570.4 Q512,575 527.1,583.6 M486.4,585.6 Q504,591 521,600.9"/>
</g>
<!-- PADS -->
<g id="pads">
<path class="w" style="stroke-width:2.1" d="M457.5,649 L473.5,640.3 Q476,639 478.5,640.2 L494,648.3 Q496.5,650 494.2,651.8 L479.5,662.5 Q477,664 474.5,662.8 L458,653 Q455.5,651 457.5,649 Z"/>
<path class="l" style="stroke-width:1.9" d="M461.5,650 L475.8,642.5 L491,650 L477,660 Z"/>
<path class="w" style="stroke-width:2.1" d="M426.3,667.8 L442.3,659.5 Q444.7,658.3 447,659.6 L463.5,669.8 Q466,671.7 463.8,673.5 L448.2,682.5 Q445.8,683.8 443.3,682.4 L426.6,671.6 Q424.3,669.5 426.3,667.8 Z"/>
<path class="l" style="stroke-width:1.9" d="M430.5,669.3 L444.5,661.8 L460,671.5 L446,679.8 Z"/>
<path class="l" style="stroke-width:1.9" d="M441,672.5 L452,667"/>
</g>
<!-- leaders for pads -->
<path class="l" d="M456.7,676.7 L618.3,695"/>
<path class="l" d="M488.9,778.3 L560.4,853"/>
<!-- LABEL PLATE 2 -->
<g id="plate2">
<path class="l" style="stroke-width:2.1" d="M192.5,640 Q192.5,635.5 196,633.3 L283,583.3 Q291.5,579.5 291.5,586.7 L291,605 Q291,610 287,612.5 L201,663.5 Q194.5,667 194,660 Z"/>
<path class="l" style="stroke-width:2" d="M246,626.5 L275,642"/>
</g>
<!-- HANDLE -->
<g id="handle">
<path class="w" style="stroke-width:2.5" d="M361.8,643.4 L416.6,609.9 Q418.5,608.8 420.4,609.9 L424.2,613.7 L430.3,619 L434.5,621.5 L433.4,639.6 L436.4,641.1 L430.3,645.7 L377.8,674.7 Q374,678 370.9,678.5 L360.2,678.5 Q355,677.5 354.1,674.7 Q352.5,671.5 353.4,668.6 Q356.5,665.5 358,662.5 Q360,658.5 360.2,654.9 L359.5,648.8 Q360,645 361.8,643.4 Z"/>
<path class="l" style="stroke-width:2" d="M366.3,650.3 Q363.5,646.5 367.9,641.1 L416.6,613 M370.1,645.7 L412.1,620.6"/>
<path class="l" style="stroke-width:2.1" d="M366.3,650.3 L373.2,652.9 L377.8,649.5 L421.2,625.1 L427.5,622.8"/>
<path class="l" style="stroke-width:2.2" d="M377.8,649.5 Q377,654 376.2,657.9 L374.7,667 Q373.5,672 370.9,674.7 M382.3,648.8 Q381.2,655 380.8,661 L380,671.6"/>
<path class="k" style="stroke-width:2.8" d="M383.1,645.7 L395.3,640.4 L430.3,625.9"/>
<path class="l" style="stroke-width:2" d="M383.1,652.6 L421.2,634.3 L430.3,640.4 M421.2,634.3 L421.5,627.5"/>
<path class="l" style="stroke-width:2" d="M382.3,666.3 L395,660.5 M399.9,657.9 L430.3,642.7"/>
<path class="l" style="stroke-width:2.2" d="M432.6,625.1 L433.4,639.6"/>
<path class="l" style="stroke-width:1.9" d="M363.3,664.8 L369.4,665.5"/>
</g>
<!-- MOUNT PLATE ON TANK -->
<g id="mount">
<path class="w" style="stroke-width:2.3" d="M305.8,676 Q306.3,672.8 309.8,673.1 L353,677.1 Q357,677.6 356.5,681 L353.3,706 Q352.5,709.3 349,708.8 L306.5,701.3 Q303,700.5 303.5,697.3 Z"/>
<path class="l" style="stroke-width:2.1" d="M312.7,682.6 L312.7,693.1 L319.7,697.5 L337.1,700.9 L345,697.5 L350.2,690.5 L347.6,681.8 M312.7,682.6 L317,679.2 L322,679.5 M337,681 L347.6,681.8"/>
<path class="k" style="stroke-width:2.3" d="M315.5,683.5 L320,681.5 L321,679.5 M320,681.5 L327,682.3 M337.5,683 L343.5,683.8 L347.5,688.5 M340,685.5 L345,686.5 M341,680.5 L343.5,683.8"/>
<ellipse class="w" style="stroke-width:1.8" cx="314.8" cy="676.9" rx="2.5" ry="1.8"/>
<ellipse class="w" style="stroke-width:1.8" cx="351.9" cy="680.9" rx="2.5" ry="1.8"/>
<ellipse class="w" style="stroke-width:1.8" cx="310.1" cy="699.7" rx="2.5" ry="1.8"/>
<ellipse class="w" style="stroke-width:1.8" cx="345.8" cy="703.6" rx="2.5" ry="1.8"/>
<path class="l" style="stroke-width:2" d="M330.5,672 L331,687.9"/>
</g>
<!-- BUMP -->
<g id="bump">
<path class="w" style="stroke-width:2.2" d="M261.3,699.2 Q262,695.5 265.7,694.8 Q269,693.5 272.6,694 Q277,695 280.5,698.3 Q287,695.5 293.6,696.6 Q298.5,698 302.3,701.8 L314.5,710.5 L324.9,714.9 Q328.5,717 327.5,720.1 Q326.5,724 323.2,724.5 L311,724.5 Q302,723.5 293.6,721 Q284,717.5 276.1,713.1 Q269,709.5 264.8,705.3 Q261.5,702 261.3,699.2 Z"/>
<path class="l" style="stroke-width:2" d="M266.6,697.5 Q266.5,704 271,708.5 Q277,714 284.8,717.5 Q296,720 307.5,718.4 Q313,717.5 317,714"/>
<path class="l" style="stroke-width:1.9" d="M280.5,698.3 Q286,704 296,709 L312,716"/>
<ellipse class="l" style="stroke-width:1.8" cx="323.2" cy="719.5" rx="3" ry="4.6" transform="rotate(-15 323.2 719.5)"/>
<path class="l" style="stroke-width:1.8" d="M308,723.5 L318.5,722"/>
</g>
<!-- EMBLEM -->
<g id="emblem">
<path class="w" style="stroke-width:2.2" d="M432.3,776.5 Q432.3,772.6 436,770.5 L528,719.8 Q533.2,717.5 533.4,722.5 L534.2,745 Q534.2,748.3 531,750 L438.5,800.8 Q433.2,803.3 433,798.5 Z"/>
<text transform="matrix(0.775,-0.44,0.30,1.08,441.8,797.8)" font-family="Liberation Sans, sans-serif" font-weight="bold" font-size="27" fill="#fff" stroke="#000" stroke-width="1.9" stroke-linejoin="round">YAMAHA</text>
</g>
<!-- FWD ARROW -->
<g id="fwd">
<path class="w" style="stroke-width:2.3" d="M41,870.8 L53.4,848.3 L58,851 L59.2,849 L83.1,836.7 L86.8,838.1 L87.1,859.2 L58.5,873 L57.7,880.2 Z"/>
<path class="l" style="stroke-width:2" d="M56.3,852.7 L83.9,839.6 L84.6,858.5 L57,871.5 Z M83.9,839.6 L86.8,838.1 M84.6,858.5 L87.1,859.2"/>
<path class="l" style="stroke-width:1.8" d="M43.9,870.1 L54.8,851.6 L55.6,877.3"/>
<text transform="matrix(0.565,-0.27,0.04,1,58.3,870.8)" font-family="Liberation Sans, sans-serif" font-weight="bold" font-size="19.5" fill="#000" stroke="#000" stroke-width="0.5">FWD</text>
</g>
<path class="l" style="stroke-width:1.4" d="M688.3,244 V248.5 M688.3,241.5 v0.3"/>
<circle cx="638.9" cy="260.9" r="0.8" fill="#000"/>

<g id="labels" class="n">
<text transform="translate(119,64) scale(1.17,1)">I6</text>
<text transform="translate(163,83) scale(1.17,1)">I7</text>
<text transform="translate(96,98) scale(1.17,1)">I5</text>
<text transform="translate(47,139) scale(1.17,1)">I4</text>
<text transform="translate(322,207) scale(1.17,1)">I5</text>
<text transform="translate(266,251) scale(1.17,1)">I3</text>
<text transform="translate(188,278) scale(1.17,1)">I5</text>
<text transform="translate(438,132) scale(1.17,1)">I2</text>
<text transform="translate(423,243) scale(1.17,1)">I5</text>
<text transform="translate(425,297) scale(1.17,1)">I8</text>
<text transform="translate(373,309) scale(1.17,1)">I9</text>
<text transform="translate(543,160) scale(1.17,1)">20</text>
<text transform="translate(99,376) scale(1.17,1)">I</text>
<text transform="translate(110,376) scale(1.17,1)">I</text>
<text transform="translate(234,380) scale(1.17,1)">6</text>
<text transform="translate(234,419) scale(1.17,1)">7</text>
<text transform="translate(236,477) scale(1.17,1)">4</text>
<text transform="translate(235,526) scale(1.17,1)">5</text>
<text transform="translate(199,563) scale(1.17,1)">2</text>
<text transform="translate(546,398) scale(1.17,1)">8</text>
<text transform="translate(541,525) scale(1.17,1)">9</text>
<text transform="translate(613,599) scale(1.17,1)">3</text>
<text transform="translate(626,702) scale(1.17,1)">I0</text>
<text transform="translate(105.5,703) scale(1.17,1)">I</text>
<text transform="translate(562,867) scale(1.17,1)">2</text>
</g>
<!-- WATERMARK -->
<g id="wm" style="mix-blend-mode:multiply" font-family="Liberation Sans, sans-serif" font-weight="bold" font-style="italic">
<text x="196.5" y="460.3" font-size="19.4" fill="#989698" stroke="#989698" stroke-width="0.7" textLength="107" lengthAdjust="spacingAndGlyphs">SKLEP</text>
<text x="304.5" y="460.3" font-size="19.4" fill="#f48a8c" stroke="#f48a8c" stroke-width="0.7" textLength="88" lengthAdjust="spacingAndGlyphs">MOTO</text>
<path d="M398.6,439.9 L449.7,439.9 L443.3,465.7 L391.6,465.7 Z" fill="#f48a8c"/>
<text x="397.5" y="460.4" font-size="19.4" fill="#fff" stroke="#fff" stroke-width="0.6" textLength="44" lengthAdjust="spacingAndGlyphs">46</text>
<text x="447.5" y="460.3" font-size="19.4" fill="#989698" stroke="#989698" stroke-width="0.7" textLength="46" lengthAdjust="spacingAndGlyphs">.PL</text>
<text x="194.2" y="470.1" font-size="9.2" fill="#8e8c8e" stroke="#8e8c8e" stroke-width="0.25" textLength="194" lengthAdjust="spacing">internetowy sklep motocyklowy</text>
</g>

</svg>
</body></html>
